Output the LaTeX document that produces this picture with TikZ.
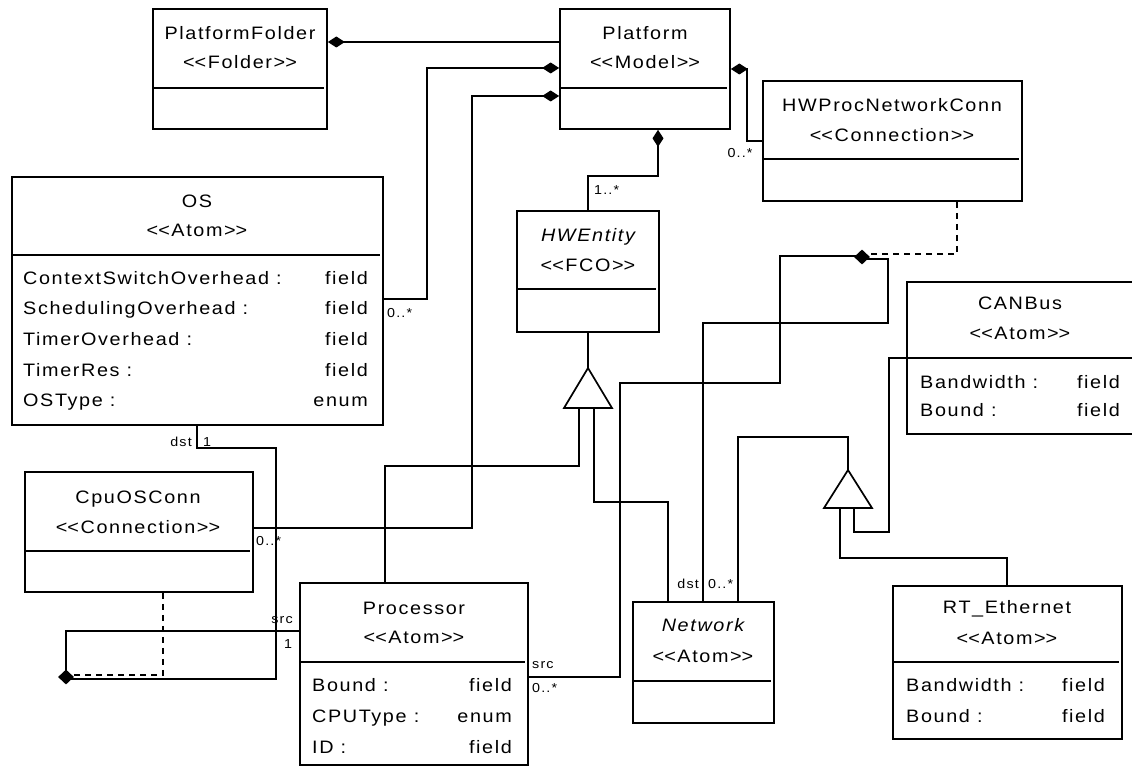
\documentclass[tikz,border=0pt]{standalone}
\usepackage{fontspec}
\setmainfont{Liberation Sans}[FakeStretch=1.1,LetterSpace=9]
\usetikzlibrary{arrows.meta,shapes.geometric}
\newcommand\st[1]{<\kern0pt<#1>\kern0pt>}
% box: name, x1, y1, x2, y2, divider y
\newcommand\ubox[6]{%
  \node[cls, minimum width={#4-#2}, minimum height={#5-#3}] (#1) at ({(#2+#4)/2},{(#3+#5)/2}) {};
  \draw[ln] (#2,#6) -- ({#4-3},#6);}
% text line: name, x, y(center), text, style
\newcommand\utext[5]{\node[#5, anchor=base] (#1) at (#2,{#3+6.5}) {#4};}
% attribute row: name, xleft, xright, y, left text, right text
\newcommand\uattr[6]{%
  \node[txt, anchor=base west] (#1a) at (#2,{#4+6.5}) {#5};
  \node[txt, anchor=base east] (#1b) at (#3,{#4+6.5}) {#6};}
% label: name, anchor, x, y(center), text
\newcommand\ulbl[5]{\node[lbl, anchor=base #2] (#1) at (#3,{#4+4.5}) {#5};}

\begin{document}
\begin{tikzpicture}[x=1pt,y=-1pt,
  ln/.style={line width=1.7pt},
  cls/.style={draw,line width=1.7pt,rectangle,inner sep=0pt},
  comp/.style={ln,{Diamond[length=17pt,width=11pt]}-},
  dsh/.style={ln,dash pattern=on 6pt off 5pt},
  junc/.style={diamond,fill=black,inner sep=0pt,minimum width=16pt,minimum height=15pt},
  gen/.style={ln,fill=white,line join=miter},
  txt/.style={inner sep=0pt,font=\fontsize{18}{20}\selectfont},
  itx/.style={inner sep=0pt,font=\fontsize{18}{20}\selectfont\itshape},
  lbl/.style={inner sep=0pt,font=\fontsize{13}{14}\selectfont},
]
\fill[white] (0,0) rectangle (1132,770);
\useasboundingbox (0,0) rectangle (1132,770);

% ---------- classes ----------
\ubox{pf}{153}{9}{327}{129}{88}
\utext{pf-n}{240}{33}{PlatformFolder}{txt}
\utext{pf-s}{240}{62}{\st{Folder}}{txt}

\ubox{pl}{560}{9}{730}{129}{88}
\utext{pl-n}{645}{33}{Platform}{txt}
\utext{pl-s}{645}{62}{\st{Model}}{txt}

\ubox{hw}{763}{81}{1022}{201}{159}
\utext{hw-n}{892}{105}{HWProcNetworkConn}{txt}
\utext{hw-s}{892}{135}{\st{Connection}}{txt}

\ubox{os}{12}{177}{383}{425}{255}
\utext{os-n}{197}{201}{OS}{txt}
\utext{os-s}{197}{230}{\st{Atom}}{txt}
\uattr{os1}{23}{368}{278}{ContextSwitchOverhead :}{field}
\uattr{os2}{23}{368}{308}{SchedulingOverhead :}{field}
\uattr{os3}{23}{368}{339}{TimerOverhead :}{field}
\uattr{os4}{23}{368}{370}{TimerRes :}{field}
\uattr{os5}{23}{368}{400}{OSType :}{enum}

\ubox{hwe}{517}{211}{659}{332}{289}
\utext{hwe-n}{588}{235}{HWEntity}{itx}
\utext{hwe-s}{588}{265}{\st{FCO}}{txt}

\ubox{can}{907}{282}{1137}{434}{358}
\utext{can-n}{1020}{303}{CANBus}{txt}
\utext{can-s}{1020}{333}{\st{Atom}}{txt}
\uattr{can1}{920}{1120}{382}{Bandwidth :}{field}
\uattr{can2}{920}{1120}{410}{Bound :}{field}

\ubox{cpu}{25}{472}{253}{592}{551}
\utext{cpu-n}{138}{497}{CpuOSConn}{txt}
\utext{cpu-s}{138}{527}{\st{Connection}}{txt}

\ubox{proc}{300}{583}{528}{765}{662}
\utext{proc-n}{414}{608}{Processor}{txt}
\utext{proc-s}{414}{637}{\st{Atom}}{txt}
\uattr{pr1}{312}{512}{685}{Bound :}{field}
\uattr{pr2}{312}{512}{716}{CPUType :}{enum}
\uattr{pr3}{312}{512}{747}{ID :}{field}

\ubox{net}{633}{602}{774}{723}{681}
\utext{net-n}{703}{625}{Network}{itx}
\utext{net-s}{703}{656}{\st{Atom}}{txt}

\ubox{rte}{893}{586}{1122}{739}{662}
\utext{rte-n}{1007}{607}{RT\_Ethernet}{txt}
\utext{rte-s}{1007}{638}{\st{Atom}}{txt}
\uattr{rt1}{906}{1105}{685}{Bandwidth :}{field}
\uattr{rt2}{906}{1105}{716}{Bound :}{field}

% ---------- junction points ----------
\coordinate (j1) at (862,257);
\coordinate (j2) at (66,677);

% ---------- containment ----------
\draw[comp] (pf.east |- 0,42) -- (pl.west |- 0,42);
\draw[comp] (pl.west |- 0,68) -- (427,68) -- (427,299) -- (os.east |- 0,299);
\ulbl{l-os}{west}{387}{313}{0..*}
\draw[comp] (pl.west |- 0,96) -- (472,96) -- (472,528) -- (cpu.east |- 0,528);
\ulbl{l-cpu}{west}{256}{541}{0..*}
\draw[comp] (pl.south -| 658,0) -- (658,176) -- (588,176) -- (hwe.north);
\ulbl{l-hwe}{west}{594}{190}{1..*}
\draw[comp] (pl.east |- 0,69) -- (747,69) -- (747,141) -- (hw.west |- 0,141);
\ulbl{l-hw}{}{740}{153}{0..*}

% ---------- HWProcNetworkConn ----------
\draw[dsh] (hw.south -| 957,0) -- (957,254) -- (j1 |- 0,254);
\draw[ln] (j1 |- 0,256) -- (780,256) -- (780,383) -- (620,383) -- (620,677) -- (proc.east |- 0,677);
\ulbl{l-ps}{west}{532}{664}{src}
\ulbl{l-pm}{west}{532}{688}{0..*}
\draw[ln] (j1 |- 0,259) -- (888,259) -- (888,323) -- (703,323) -- (net.north -| 703,0);
\ulbl{l-nd}{east}{699}{584}{dst}
\ulbl{l-nm}{west}{708}{584}{0..*}

% ---------- CpuOSConn ----------
\draw[ln] (os.south -| 197,0) -- (197,448) -- (276,448) -- (276,679) -- (j2 |- 0,679);
\ulbl{l-od}{east}{192}{442}{dst}
\ulbl{l-o1}{west}{203}{442}{1}
\draw[ln] (proc.west |- 0,631) -- (66,631) -- (j2);
\ulbl{l-cs}{east}{293}{619}{src}
\ulbl{l-c1}{west}{284}{644}{1}
\draw[dsh] (cpu.south -| 163,0) -- (163,675) -- (j2 |- 0,675);

% ---------- inheritance ----------
\draw[ln] (hwe.south) -- (588,368);
\draw[ln] (proc.north -| 385,0) -- (385,466) -- (579,466) -- (579,408);
\draw[ln] (net.north -| 668,0) -- (668,502) -- (594,502) -- (594,408);
\draw[gen] (588,368) -- (612,408) -- (564,408) -- cycle;

\draw[ln] (net.north -| 738,0) -- (738,437) -- (848,437) -- (848,470);
\draw[ln] (840,508) -- (840,558) -- (1007,558) -- (rte.north -| 1007,0);
\draw[ln] (854,508) -- (854,532) -- (889,532) -- (889,358) -- (can.west |- 0,358);
\draw[gen] (848,470) -- (872,508) -- (824,508) -- cycle;

% ---------- junction diamonds ----------
\node[junc] (j1d) at (j1) {};
\node[junc] (j2d) at (j2) {};
\end{tikzpicture}
\end{document}
